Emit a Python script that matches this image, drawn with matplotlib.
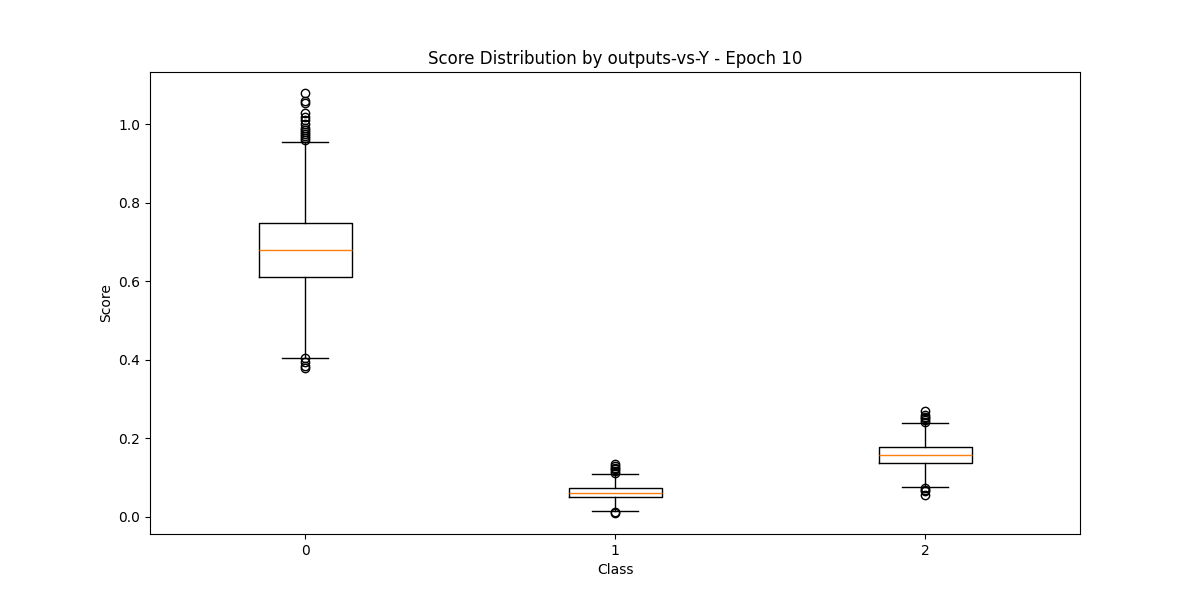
import matplotlib
matplotlib.use("Agg")
import matplotlib.pyplot as plt

classes = ["0", "1", "2"]
q1 = [0.610, 0.051, 0.136]
med = [0.679, 0.059, 0.156]
q3 = [0.748, 0.072, 0.177]
whislo = [0.403, 0.013, 0.075]
whishi = [0.955, 0.108, 0.238]
fliers = [
    [0.96, 0.965, 0.97, 0.975, 0.98, 0.985, 0.99, 1.0, 1.01, 1.02, 1.03, 1.055, 1.06, 1.08,
     0.405, 0.395, 0.385, 0.378],
    [0.11, 0.115, 0.12, 0.125, 0.13, 0.135, 0.012, 0.009],
    [0.24, 0.245, 0.25, 0.255, 0.26, 0.27, 0.072, 0.068, 0.064, 0.055],
]

stats = []
for i in range(len(classes)):
    stats.append(dict(label=classes[i], q1=q1[i], med=med[i], q3=q3[i],
                      whislo=whislo[i], whishi=whishi[i], fliers=fliers[i]))

fig, ax = plt.subplots(figsize=(12, 6), dpi=100)
ax.bxp(stats, positions=[1, 2, 3])
ax.set_xticks([1, 2, 3])
ax.set_xticklabels(classes)
ax.set_title("Score Distribution by outputs-vs-Y - Epoch 10")
ax.set_xlabel("Class")
ax.set_ylabel("Score")
fig.savefig("out.png")
